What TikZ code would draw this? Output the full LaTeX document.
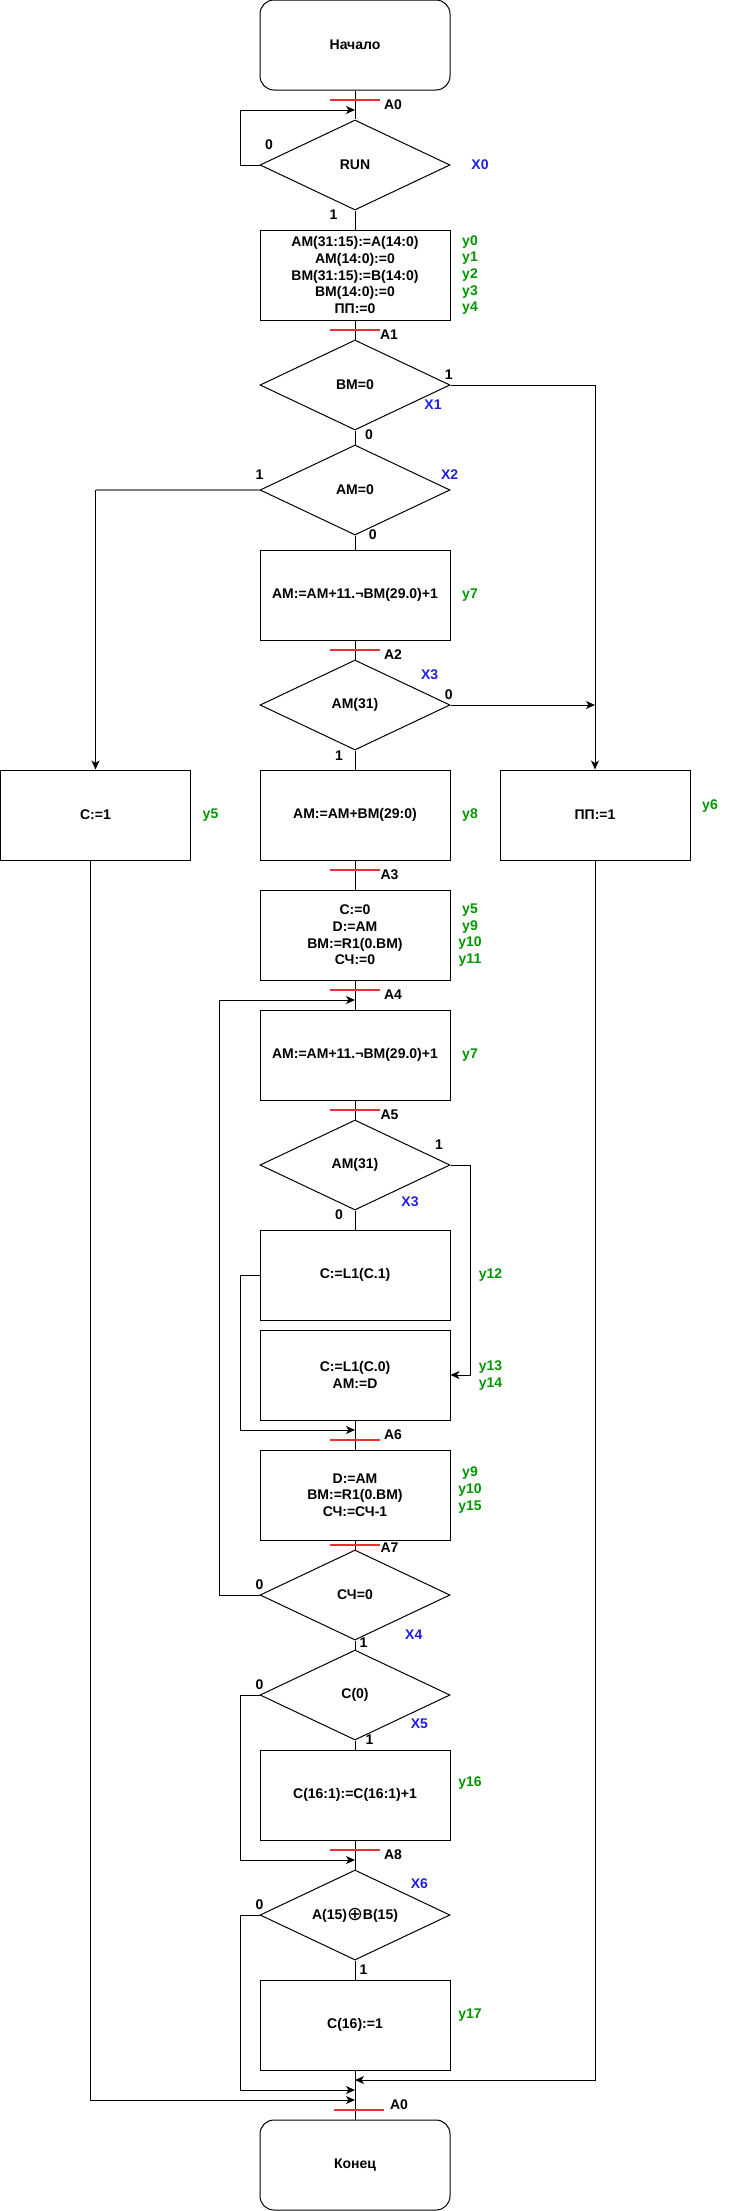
\documentclass[tikz,border=0pt]{standalone}
\usepackage{fontspec}
\setmainfont{Liberation Sans}
\newfontfamily\djv{DejaVu Sans}
\usetikzlibrary{shapes.geometric,arrows.meta}
\definecolor{ygreen}{RGB}{0,150,0}
\definecolor{xblue}{RGB}{30,30,230}
\definecolor{amarkc}{RGB}{235,50,50}
\definecolor{gline}{RGB}{128,128,128}
\begin{document}
\begin{tikzpicture}[x=1pt,y=-1pt,
  font=\fontsize{14}{16.7}\selectfont\bfseries,
  every node/.style={inner sep=0pt},
  blk/.style={draw, line width=1pt, minimum width=190pt, minimum height=90pt, align=center},
  term/.style={blk, rounded corners=14pt},
  dec/.style={draw, line width=1pt, diamond, aspect=2.111, minimum width=190pt, minimum height=90pt, align=center},
  ln/.style={line width=1pt},
  arr/.style={line width=1pt, -{Stealth[length=9pt,width=8pt,inset=2.5pt]}},
  ylab/.style={text=ygreen},
  xlab/.style={text=xblue},
  amk/.style={draw=amarkc, line width=2pt},
]
\useasboundingbox (0,0) rectangle (731,2211);

% ---- blocks ----
\node[term] (start) at (355,45) {Начало};
\node[dec] (run) at (355,165) {RUN};
\node[blk] (b1) at (355,275) {AM(31:15):=A(14:0)\\AM(14:0):=0\\BM(31:15):=B(14:0)\\BM(14:0):=0\\ПП:=0};
\node[dec] (bm) at (355,385) {BM=0};
\node[dec] (am) at (355,490) {AM=0};
\node[blk] (b2) at (355,595) {AM:=AM+11.¬BM(29.0)+1};
\node[dec] (am31) at (355,705) {AM(31)};
\node[blk] (bc1) at (95.5,815) {C:=1};
\node[blk] (b3) at (355,815) {AM:=AM+BM(29:0)};
\node[blk] (bpp) at (595,815) {ПП:=1};
\node[blk] (b4) at (355,935) {C:=0\\D:=AM\\BM:=R1(0.BM)\\СЧ:=0};
\node[blk] (b5) at (355,1055) {AM:=AM+11.¬BM(29.0)+1};
\node[dec] (am31b) at (355,1165) {AM(31)};
\node[blk] (bl1) at (355,1275) {C:=L1(C.1)};
\node[blk] (bl0) at (355,1375) {C:=L1(C.0)\\AM:=D};
\node[blk] (b6) at (355,1495) {D:=AM\\BM:=R1(0.BM)\\СЧ:=СЧ-1};
\node[dec] (sc) at (355,1595) {СЧ=0};
\node[dec] (c0) at (355,1695) {C(0)};
\node[blk] (b7) at (355,1795) {C(16:1):=C(16:1)+1};
\node[dec] (xr) at (355,1915) {A(15)\raisebox{-1pt}{\djv\mdseries\fontsize{19}{19}\selectfont ⊕}B(15)};
\node[blk] (b8) at (355,2025) {C(16):=1};
\node[term] (fin) at (355,2165) {Конец};

% ---- entry points ----
\coordinate (e0) at (355,110);
\coordinate (e4) at (355,1000);
\coordinate (e6) at (355,1430);
\coordinate (e8) at (355,1860);
\coordinate (e9) at (355,2090);
\coordinate (e10) at (355,2080);
\coordinate (e11) at (355,2100);

% ---- connectors ----
\draw[ln] (start) -- (run);
\draw[arr] (run.west) -- ++(-19.5,0) |- (e0);
\draw[ln] (run) -- (b1);
\draw[ln] (b1) -- (bm);
\draw[arr] (bm.east) -| (bpp.north);
\draw[ln] (bm) -- (am);
\draw[draw=gline, line width=1.5pt] (am.west) -- (bc1.north |- am.west);
\draw[arr] (bc1.north |- am.west) -- (bc1.north);
\draw[ln] (am) -- (b2);
\draw[ln] (b2) -- (am31);
\draw[arr] (am31.east) -- (bpp.north |- am31.east);
\draw[ln] (am31) -- (b3);
\draw[ln] (b3) -- (b4);
\draw[ln] (b4) -- (b5);
\draw[ln] (b5) -- (am31b);
\draw[arr] (am31b.east) -- ++(19.7,0) |- (bl0.east);
\draw[ln] (am31b) -- (bl1);
\draw[arr] (bl1.west) -- ++(-19.5,0) |- (e6);
\draw[ln] (bl0) -- (b6);
\draw[ln] (b6) -- (sc);
\draw[arr] (sc.west) -- ++(-39.6,0) |- (e4);
\draw[ln] (sc) -- (c0);
\draw[ln] (c0) -- (b7);
\draw[arr] (c0.west) -- ++(-19.5,0) |- (e8);
\draw[ln] (b7) -- (xr);
\draw[ln] (xr) -- (b8);
\draw[arr] (xr.west) -- ++(-19.5,0) |- (e9);
\draw[ln] (b8) -- (fin);
\draw[arr] (bpp.south) |- (e10);
\draw[arr] ([xshift=-5.5pt]bc1.south) |- (e11);

% ---- red markers ----
\draw[amk] (330,100) -- (380,100);
\draw[amk] (330,329.5) -- (380,329.5);
\draw[amk] (330,650) -- (380,650);
\draw[amk] (330,870) -- (380,870);
\draw[amk] (330,990) -- (380,990);
\draw[amk] (330,1110) -- (380,1110);
\draw[amk] (330,1440) -- (380,1440);
\draw[amk] (330,1545) -- (380,1545);
\draw[amk] (330,1850) -- (380,1850);
\draw[amk] (334,2110) -- (384,2110);

% ---- A labels ----
\node (la0) at (393,105) {A0};
\node (la1) at (389,335) {A1};
\node (la2) at (393,655) {A2};
\node (la3) at (389.5,875) {A3};
\node (la4) at (393,995) {A4};
\node (la5) at (389.5,1115) {A5};
\node (la6) at (393,1435) {A6};
\node (la7) at (389.5,1548) {A7};
\node (la8) at (393,1855) {A8};
\node (la0b) at (399,2105) {A0};

% ---- branch labels ----
\node (r0) at (269,145) {0};
\node (r1) at (333.6,215) {1};
\node (bm1) at (448.7,375) {1};
\node (bm0) at (369,435) {0};
\node (am1) at (259.6,475) {1};
\node (am0) at (372.8,535) {0};
\node (a310) at (448.7,695) {0};
\node (a311) at (339,756) {1};
\node (a31b1) at (439,1145) {1};
\node (a31b0) at (339,1215) {0};
\node (sc0) at (259.6,1585) {0};
\node (sc1) at (363.5,1643) {1};
\node (c00) at (259.6,1685) {0};
\node (c01) at (369.5,1740) {1};
\node (xr0) at (259.6,1905) {0};
\node (xr1) at (363.5,1970) {1};

% ---- X labels ----
\node[xlab] (x0) at (480,165) {X0};
\node[xlab] (x1) at (433,405) {X1};
\node[xlab] (x2) at (449.7,475) {X2};
\node[xlab] (x3) at (429.6,675) {X3};
\node[xlab] (x3b) at (410,1202) {X3};
\node[xlab] (x4) at (413.8,1635) {X4};
\node[xlab] (x5) at (419.4,1724) {X5};
\node[xlab] (x6) at (419.4,1884) {X6};

% ---- y labels ----
\node[ylab] (y0) at (470,241.7) {y0};
\node[ylab] (y1) at (470,258.3) {y1};
\node[ylab] (y2) at (470,275) {y2};
\node[ylab] (y3) at (470,291.7) {y3};
\node[ylab] (y4) at (470,308.3) {y4};
\node[ylab] (y7a) at (470,595) {y7};
\node[ylab] (y5a) at (210.5,815) {y5};
\node[ylab] (y8) at (470,815) {y8};
\node[ylab] (y6) at (710,805.7) {y6};
\node[ylab] (y5b) at (470,910) {y5};
\node[ylab] (y9a) at (470,926.7) {y9};
\node[ylab] (y10a) at (470,943.3) {y10};
\node[ylab] (y11) at (470,960) {y11};
\node[ylab] (y7b) at (470,1055) {y7};
\node[ylab] (y12) at (490.5,1275) {y12};
\node[ylab] (y13) at (490.5,1367) {y13};
\node[ylab] (y14) at (490.5,1384) {y14};
\node[ylab] (y9b) at (470,1473) {y9};
\node[ylab] (y10b) at (470,1490) {y10};
\node[ylab] (y15) at (470,1507) {y15};
\node[ylab] (y16) at (470,1783) {y16};
\node[ylab] (y17) at (470,2015) {y17};
\end{tikzpicture}
\end{document}
